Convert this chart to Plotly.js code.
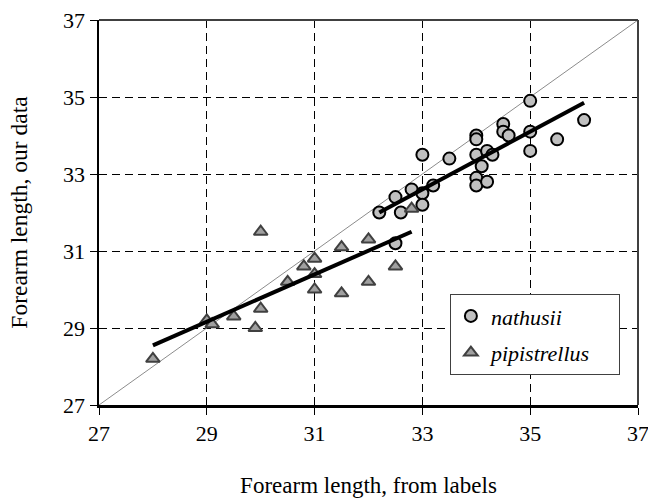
<!DOCTYPE html>
<html>
<head>
<meta charset="utf-8">
<script src="https://cdn.plot.ly/plotly-3.0.1.min.js"></script>
<style>html,body{margin:0;padding:0;background:#fff;}#chart{width:648px;height:498px;}</style>
</head>
<body>
<div id="chart"></div>
<script>
// nathusii: forearm length from labels (x) vs our data (y)
var nathusiiX = [32.2, 32.5, 32.6, 32.8, 33.0, 33.0, 33.0, 33.2, 33.5, 34.0, 34.0, 34.0, 34.0, 34.0, 34.1, 34.2, 34.2, 34.3, 34.5, 34.5, 34.6, 35.0, 35.0, 35.0, 35.5, 36.0, 32.5];
var nathusiiY = [32.0, 32.4, 32.0, 32.6, 33.5, 32.5, 32.2, 32.7, 33.4, 34.0, 33.9, 33.5, 32.9, 32.7, 33.2, 33.6, 32.8, 33.5, 34.3, 34.1, 34.0, 34.9, 34.1, 33.6, 33.9, 34.4, 31.2];
// pipistrellus
var pipX = [28.0, 29.0, 29.1, 29.5, 29.9, 30.0, 30.0, 30.5, 30.8, 31.0, 31.0, 31.0, 31.5, 31.5, 32.0, 32.0, 32.5, 32.8];
var pipY = [28.2, 29.2, 29.1, 29.3, 29.0, 29.5, 31.5, 30.2, 30.6, 30.8, 30.4, 30.0, 31.1, 29.9, 31.3, 30.2, 30.6, 32.1];
// trend line end points
var nathusiiTrendX = [32.2, 36.0];
var nathusiiTrendY = [32.0, 34.85];
var pipTrendX = [28.0, 32.8];
var pipTrendY = [28.55, 31.5];
// identity line
var identityX = [27, 37];
var identityY = [27, 37];
var tickVals = [27, 29, 31, 33, 35, 37];
var seriesNames = ["nathusii", "pipistrellus"];

var font = "Liberation Serif, Times New Roman, serif";
var pad = "\u00a0\u00a0\u00a0\u00a0";

var traces = [
  {x: identityX, y: identityY, mode: "lines", line: {color: "#8c8c8c", width: 1}, showlegend: false, hoverinfo: "skip"},
  {x: nathusiiX, y: nathusiiY, mode: "markers", name: seriesNames[0], legendgroup: "a",
   marker: {symbol: "circle", size: 12, color: "#c0c0c0", line: {color: "#000", width: 2}}},
  {x: pipX, y: pipY, mode: "markers", name: seriesNames[1] + pad, legendgroup: "b",
   marker: {symbol: "triangle-up", size: 12, color: "#a0a0a0", line: {color: "#404040", width: 2}}},
  {x: nathusiiTrendX, y: nathusiiTrendY, mode: "lines", line: {color: "#000", width: 4}, showlegend: false},
  {x: pipTrendX, y: pipTrendY, mode: "lines", line: {color: "#000", width: 4}, showlegend: false}
];

var axisCommon = {
  range: [27, 37], tickvals: tickVals, ticktext: tickVals.map(String),
  showgrid: true, gridcolor: "#000", gridwidth: 1, griddash: "8px,5px",
  zeroline: false, showline: true, linecolor: "#000", linewidth: 2.5,
  ticks: "outside", ticklen: 7, tickcolor: "#000", tickwidth: 1,
  ticklabeloverflow: "allow",
  tickfont: {family: font, size: 22, color: "#000"}
};

var layout = {
  width: 648, height: 498,
  margin: {l: 99, r: 10, t: 20, b: 93},
  paper_bgcolor: "#fff", plot_bgcolor: "#fff",
  font: {family: font, color: "#000"},
  xaxis: Object.assign({}, axisCommon, {
    title: {text: "Forearm length, from labels", font: {family: font, size: 23, color: "#000"}, standoff: 34}
  }),
  yaxis: Object.assign({}, axisCommon, {
    title: {text: "Forearm length, our data", font: {family: font, size: 23.5, color: "#000"}, standoff: 29}
  }),
  showlegend: true,
  legend: {
    x: 0.651, y: 0.288, xanchor: "left", yanchor: "top",
    bgcolor: "#fff", bordercolor: "#404040", borderwidth: 1,
    font: {family: font, size: 22, color: "#000", style: "italic"},
    traceorder: "grouped", tracegroupgap: 5, itemwidth: 30
  },
  shapes: [
    {type: "line", xref: "paper", yref: "paper", x0: 0, x1: 1, y0: 1, y1: 1, line: {color: "#404040", width: 2}},
    {type: "line", xref: "paper", yref: "paper", x0: 1, x1: 1, y0: 0, y1: 1, line: {color: "#404040", width: 2}}
  ]
};

Plotly.newPlot("chart", traces, layout, {displayModeBar: false, staticPlot: true});
</script>
</body>
</html>
